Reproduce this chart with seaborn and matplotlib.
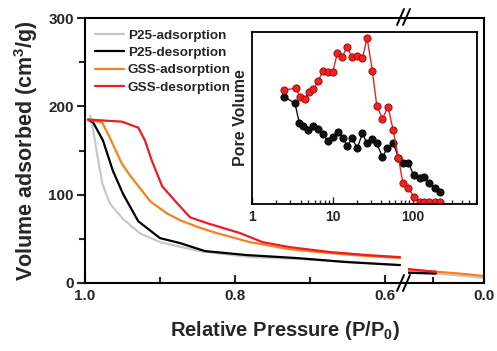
import matplotlib
matplotlib.use("Agg")
import matplotlib.pyplot as plt
import seaborn as sns
import pandas as pd
import numpy as np
from matplotlib.lines import Line2D
from matplotlib.ticker import FixedLocator, NullFormatter

sns.set_theme(style="white")
plt.rcParams['font.family'] = ['Liberation Sans', 'DejaVu Sans']
plt.rcParams['font.weight'] = 'bold'
plt.rcParams['mathtext.fontset'] = 'custom'
plt.rcParams['mathtext.rm'] = 'Liberation Sans:bold'
plt.rcParams['mathtext.bf'] = 'Liberation Sans:bold'

# ---------------- main isotherm data (left, high-pressure segment) ----------------
p25_ads_x = [0.993, 0.989, 0.984, 0.977, 0.967, 0.949, 0.927, 0.900, 0.847, 0.780, 0.713, 0.647, 0.580]
p25_ads_y = [189.5, 172.5, 146.6, 112.8, 90.2, 72.2, 56.4, 46.2, 36.1, 29.3, 27.1, 23.7, 20.3]
p25_des_x = [0.996, 0.989, 0.976, 0.963, 0.949, 0.929, 0.900, 0.873, 0.840, 0.784, 0.717, 0.651, 0.580]
p25_des_y = [185.0, 181.6, 161.3, 127.4, 100.4, 69.9, 50.8, 45.1, 36.1, 31.6, 28.2, 23.7, 20.3]
gss_ads_x = [0.996, 0.977, 0.967, 0.951, 0.940, 0.913, 0.891, 0.873, 0.849, 0.824, 0.780, 0.727, 0.673, 0.624, 0.580]
gss_ads_y = [185.0, 181.6, 164.7, 135.3, 121.8, 92.5, 78.9, 71.0, 63.2, 56.4, 46.2, 38.3, 33.8, 30.5, 28.2]
gss_des_x = [0.996, 0.951, 0.929, 0.920, 0.911, 0.897, 0.877, 0.860, 0.837, 0.793, 0.763, 0.727, 0.673, 0.624, 0.580]
gss_des_y = [185.0, 182.7, 175.9, 161.3, 138.7, 109.4, 90.2, 74.4, 67.7, 56.4, 46.2, 40.6, 35.0, 31.6, 29.3]

# ---------------- low-pressure segment (right of the axis break) ----------------
p25_ads_x2 = [0.30, 0.20, 0.10, 0.00]
p25_ads_y2 = [12.0, 11.0, 8.5, 5.6]
p25_des_x2 = [0.30, 0.19]
p25_des_y2 = [11.6, 10.7]
gss_ads_x2 = [0.30, 0.20, 0.10, 0.00]
gss_ads_y2 = [14.5, 13.0, 10.8, 7.9]
gss_des_x2 = [0.30, 0.19]
gss_des_y2 = [15.8, 12.7]

series_names = ["P25-adsorption", "P25-desorption", "GSS-adsorption", "GSS-desorption"]
series_colors = ["#c8c8c8", "#000000", "#f7801e", "#ec1c24"]

# ---------------- inset: pore size distribution ----------------
pore_gss_x = [2.52, 3.49, 3.95, 4.52, 5.06, 5.77, 6.66, 7.62, 8.72, 10.05, 11.5, 13.2, 15.1, 17.5, 20.1,
              23.5, 26.8, 31.2, 35.4, 41.6, 48.9, 56.5, 65.7, 74.5, 87.5, 103, 120, 138, 159, 188, 216]
pore_gss_y = [0.663, 0.673, 0.624, 0.609, 0.649, 0.667, 0.717, 0.775, 0.767, 0.767, 0.880, 0.856, 0.911,
              0.856, 0.862, 0.847, 0.967, 0.773, 0.570, 0.496, 0.566, 0.428, 0.268, 0.125, 0.091, 0.039,
              0.012, 0.012, 0.012, 0.012, 0.012]
pore_p25_x = [2.50, 3.42, 3.87, 4.34, 5.00, 5.77, 6.66, 7.55, 8.87, 10.2, 11.8, 13.4, 15.3, 17.3, 20.3,
              23.5, 26.6, 31.0, 35.4, 41.6, 47.9, 56.9, 65.7, 74.5, 87.5, 101, 120, 138, 159, 188, 216]
pore_p25_y = [0.624, 0.585, 0.469, 0.455, 0.430, 0.455, 0.436, 0.405, 0.366, 0.391, 0.420, 0.385, 0.337,
              0.382, 0.327, 0.411, 0.353, 0.378, 0.353, 0.272, 0.327, 0.353, 0.269, 0.237, 0.240, 0.169,
              0.149, 0.159, 0.120, 0.095, 0.072]

W, H = 497, 351
fig = plt.figure(figsize=(W / 100, H / 100), dpi=100)

def fx(px):
    return px / W

def fy(py):
    return 1 - py / H

axL = fig.add_axes([fx(85), fy(283), fx(405) - fx(85), fy(18) - fy(283)])
axR = fig.add_axes([fx(408), fy(283), fx(484) - fx(408), fy(18) - fy(283)], sharey=axL)

def make_df(xs, ys):
    rows = []
    for name, x, y in zip(series_names, xs, ys):
        for a, b in zip(x, y):
            rows.append({"P": a, "V": b, "series": name})
    return pd.DataFrame(rows)

dfL = make_df([p25_ads_x, p25_des_x, gss_ads_x, gss_des_x], [p25_ads_y, p25_des_y, gss_ads_y, gss_des_y])
dfR = make_df([p25_ads_x2, p25_des_x2, gss_ads_x2, gss_des_x2], [p25_ads_y2, p25_des_y2, gss_ads_y2, gss_des_y2])
pal = dict(zip(series_names, series_colors))

sns.lineplot(data=dfL, x="P", y="V", hue="series", hue_order=series_names, palette=pal,
             sort=False, estimator=None, linewidth=1.6, ax=axL)
for name in ["P25-adsorption", "GSS-adsorption", "P25-desorption", "GSS-desorption"]:
    sub = dfR[dfR.series == name]
    sns.lineplot(data=sub, x="P", y="V", color=pal[name], sort=False, estimator=None,
                 linewidth=1.6, ax=axR, legend=False)

axL.set_xlim(1.0, 0.5733)
axR.set_xlim(0.30, 0.0)
axL.set_ylim(0, 300)

for ax in (axL, axR):
    ax.set_xlabel("")
    ax.set_ylabel("")
    for s in ax.spines.values():
        s.set_linewidth(1.5)
        s.set_color("black")
axL.spines["right"].set_visible(False)
axR.spines["left"].set_visible(False)

axL.set_yticks([0, 100, 200, 300])
axL.yaxis.set_minor_locator(FixedLocator([50, 150, 250]))
axL.set_yticklabels(["0", "100", "200", "300"])
axL.set_xticks([1.0, 0.8, 0.6])
axL.set_xticklabels(["1.0", "0.8", "0.6"])
axL.xaxis.set_minor_locator(FixedLocator([0.9, 0.7]))
axR.set_xticks([0.0])
axR.set_xticklabels(["0.0"])
axR.xaxis.set_minor_locator(FixedLocator([0.2]))
axR.tick_params(axis="y", left=False, labelleft=False, which="both")

axL.tick_params(axis="y", which="major", direction="out", length=6, width=1.5, labelsize=11, pad=2, left=True)
axL.tick_params(axis="y", which="minor", direction="out", length=4, width=1.5, left=True)
for ax in (axL, axR):
    ax.tick_params(axis="x", which="major", direction="in", length=6, width=1.5, labelsize=11, pad=4, bottom=True)
    ax.tick_params(axis="x", which="minor", direction="in", length=4, width=1.5, bottom=True)
for lab in axL.get_xticklabels() + axL.get_yticklabels() + axR.get_xticklabels():
    lab.set_fontweight("bold")

leg = axL.legend(loc="upper left", bbox_to_anchor=(-0.005, 1.0), frameon=False, fontsize=9.7,
                 handlelength=2.2, handletextpad=0.25, labelspacing=0.36, borderaxespad=0.45)
for t in leg.get_texts():
    t.set_fontweight("bold")
for lh in leg.get_lines():
    lh.set_linewidth(1.6)

# axis break marks
for (x0, y0) in [(397, 291), (403, 291), (397, 25), (403, 25)]:
    fig.add_artist(Line2D([fx(x0), fx(x0 + 7)], [fy(y0), fy(y0 - 16)], color="black", lw=1.4,
                          transform=fig.transFigure))

fig.text(fx(285), fy(330), "Relative Pressure (P/P$_\\mathregular{0}$)", ha="center", va="center",
         fontsize=14.5, fontweight="bold")
fig.text(fx(26), fy(151), "Volume adsorbed (cm$^\\mathregular{3}$/g)", ha="center", va="center",
         rotation=90, fontsize=15.5, fontweight="bold")

# ---------------- inset ----------------
axI = fig.add_axes([fx(252), fy(204), fx(477) - fx(252), fy(32) - fy(204)])
dfP = pd.concat([
    pd.DataFrame({"D": pore_p25_x, "PV": pore_p25_y, "s": "P25"}),
    pd.DataFrame({"D": pore_gss_x, "PV": pore_gss_y, "s": "GSS"}),
])
sns.lineplot(data=dfP, x="D", y="PV", hue="s", hue_order=["P25", "GSS"],
             palette={"P25": "#111111", "GSS": "#ee2222"}, sort=False, estimator=None,
             linewidth=1.0, marker="o", markersize=5.2, markeredgewidth=0.6,
             ax=axI, legend=False)
for ln, ec in zip(axI.get_lines(), ["#000000", "#a00000"]):
    ln.set_markeredgecolor(ec)
axI.set_xscale("log")
axI.set_xlim(1, 620)
axI.set_ylim(0, 1)
axI.set_yticks([])
axI.set_xticks([1, 10, 100])
axI.set_xticklabels(["1", "10", "100"])
axI.xaxis.set_minor_formatter(NullFormatter())
axI.tick_params(axis="x", which="major", direction="in", length=5, width=1.0, labelsize=10, pad=4, bottom=True)
axI.tick_params(axis="x", which="minor", direction="in", length=3, width=1.0, bottom=True)
for lab in axI.get_xticklabels():
    lab.set_fontweight("bold")
axI.set_xlabel("")
axI.set_ylabel("Pore Volume", fontsize=11.5, fontweight="bold", labelpad=3)
for s in axI.spines.values():
    s.set_linewidth(1.3)
    s.set_color("black")

fig.savefig("out.png", dpi=100)
